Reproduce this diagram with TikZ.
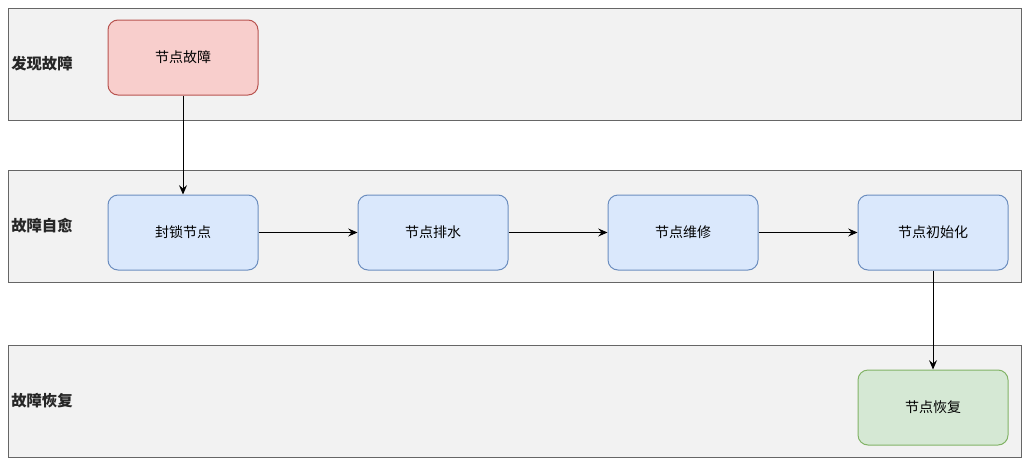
\documentclass[tikz,border=0pt]{standalone}
\usepackage{fontspec}
\setmainfont{Noto Sans CJK SC}
\usetikzlibrary{arrows.meta}
\definecolor{lanefill}{HTML}{F2F2F2}
\definecolor{lanedraw}{HTML}{666666}
\definecolor{redfill}{HTML}{F8CECC}
\definecolor{reddraw}{HTML}{B85450}
\definecolor{bluefill}{HTML}{DAE8FC}
\definecolor{bluedraw}{HTML}{6C8EBF}
\definecolor{greenfill}{HTML}{D5E8D4}
\definecolor{greendraw}{HTML}{82B366}
\tikzset{
  lane/.style={fill=lanefill, draw=lanedraw, line width=0.75pt},
  lanelabel/.style={anchor=west, font=\fontsize{11.5pt}{13pt}\selectfont\bfseries, text=black!85, inner sep=0pt},
  box/.style={rounded corners=7.5pt, minimum width=112.5pt, minimum height=56.25pt, line width=0.75pt, font=\fontsize{10.5pt}{12pt}\selectfont, inner sep=0pt},
  redbox/.style={box, fill=redfill, draw=reddraw},
  bluebox/.style={box, fill=bluefill, draw=bluedraw},
  greenbox/.style={box, fill=greenfill, draw=greendraw},
  conn/.style={draw=black, line width=0.75pt, -{Stealth[length=7pt,width=6pt,inset=2.5pt]}}
}
\begin{document}
\begin{tikzpicture}[x=0.75pt,y=-0.75pt]
\useasboundingbox (0,0) rectangle (1030,464);
\fill[white] (0,0) rectangle (1030,464);
\draw[lane] (8,8) rectangle (1021,120);
\draw[lane] (8,170) rectangle (1021,282);
\draw[lane] (8,345) rectangle (1021,457);
\node[lanelabel] (l1) at (11,64) {发现故障};
\node[lanelabel] (l2) at (11,226) {故障自愈};
\node[lanelabel] (l3) at (11,401) {故障恢复};
\node[redbox] (fail) at (183,57.5) {节点故障};
\node[bluebox] (lock) at (183,232.5) {封锁节点};
\node[bluebox] (drain) at (433,232.5) {节点排水};
\node[bluebox] (fix) at (683,232.5) {节点维修};
\node[bluebox] (init) at (933,232.5) {节点初始化};
\node[greenbox] (rec) at (933,407.5) {节点恢复};
\draw[conn] (fail) -- (lock);
\draw[conn] (lock) -- (drain);
\draw[conn] (drain) -- (fix);
\draw[conn] (fix) -- (init);
\draw[conn] (init) -- (rec);
\end{tikzpicture}
\end{document}
